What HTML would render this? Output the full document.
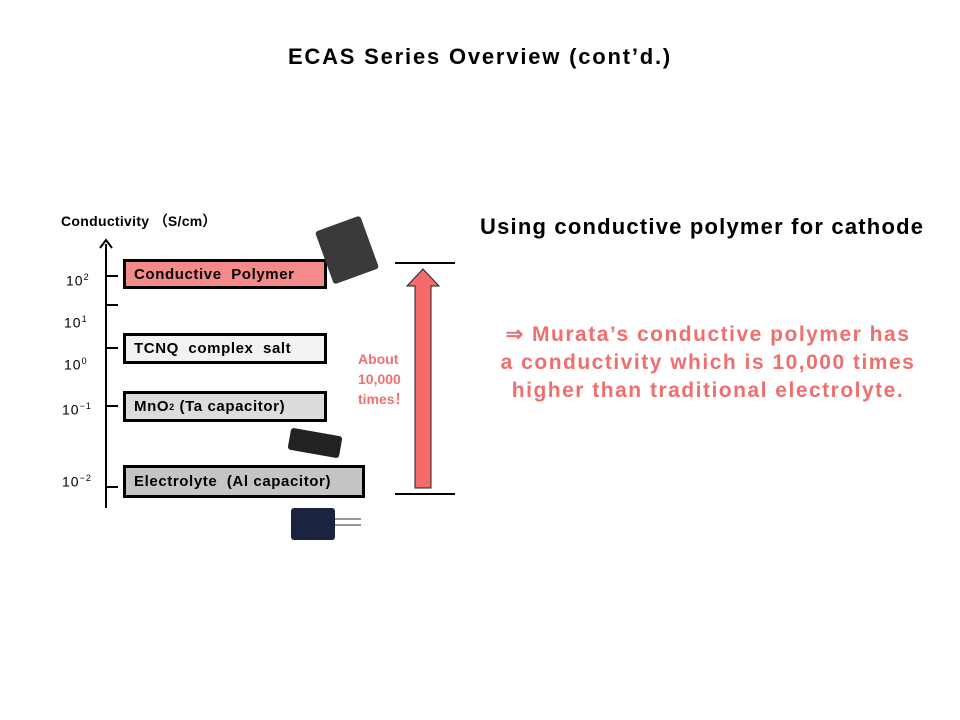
<!DOCTYPE html>
<html><head><style>
body{margin:0;width:960px;height:720px;background:#fff;position:relative;font-family:"Liberation Sans",sans-serif;overflow:hidden}
.a{position:absolute;white-space:nowrap}
.b{position:absolute;border:3px solid #000;box-sizing:border-box;font-weight:bold;font-size:15px;letter-spacing:0.6px;padding-left:8px;display:flex;align-items:center}
.t{position:absolute;left:106px;width:12px;height:2px;background:#000}
.l{position:absolute;font-size:14px;left:64px;letter-spacing:1px}
</style></head><body>
<div class="a" style="left:0;width:960px;text-align:center;top:44px;font-size:22px;font-weight:bold;letter-spacing:1.8px">ECAS Series Overview (cont’d.)</div>
<div class="a" style="left:61px;top:211px;font-size:14px;font-weight:bold;letter-spacing:0.3px">Conductivity （S/cm）</div>
<div class="a" style="left:105px;top:244px;width:2px;height:264px;background:#000"></div>
<svg class="a" style="left:98px;top:238px" width="18" height="12"><polyline points="2,10 8,2 14,10" fill="none" stroke="#000" stroke-width="2"/></svg>
<div class="t" style="top:275px"></div><div class="t" style="top:304px"></div><div class="t" style="top:347px"></div><div class="t" style="top:405px"></div><div class="t" style="top:486px"></div>
<div class="l" style="top:272px;left:66px">10<sup style="font-size:9px">2</sup></div>
<div class="l" style="top:314px">10<sup style="font-size:9px">1</sup></div>
<div class="l" style="top:356px">10<sup style="font-size:9px">0</sup></div>
<div class="l" style="top:401px;left:62px">10<sup style="font-size:9px">−1</sup></div>
<div class="l" style="top:473px;left:62px">10<sup style="font-size:9px">−2</sup></div>
<div class="b" style="left:123px;top:259px;width:204px;height:30px;background:#f58a8a">Conductive&nbsp; Polymer</div>
<div class="b" style="left:123px;top:333px;width:204px;height:31px;background:#f2f2f2">TCNQ&nbsp; complex&nbsp; salt</div>
<div class="b" style="left:123px;top:391px;width:204px;height:31px;background:#dcdcdc">MnO<sub style="font-size:9px">2</sub>&nbsp;(Ta capacitor)</div>
<div class="b" style="left:123px;top:465px;width:242px;height:33px;background:#c4c4c4">Electrolyte&nbsp; (Al capacitor)</div>
<div class="a" style="left:323px;top:222px;width:48px;height:56px;background:#3a3a3a;transform:rotate(-20deg);border-radius:3px"></div>
<div class="a" style="left:289px;top:432px;width:52px;height:22px;background:#222;transform:rotate(10deg);border-radius:3px"></div>
<div class="a" style="left:291px;top:508px;width:44px;height:32px;background:#1c2340;border-radius:3px"></div>
<div class="a" style="left:335px;top:518px;width:26px;height:2px;background:#999"></div>
<div class="a" style="left:335px;top:524px;width:26px;height:2px;background:#999"></div>
<div class="a" style="left:395px;top:262px;width:60px;height:2px;background:#000"></div>
<div class="a" style="left:395px;top:493px;width:60px;height:2px;background:#000"></div>
<svg class="a" style="left:405px;top:268px" width="36" height="224"><polygon points="18,1 34,18 26,18 26,220 10,220 10,18 2,18" fill="#f56b6b" stroke="#222" stroke-width="1"/></svg>
<div class="a" style="left:358px;top:349px;font-size:14px;font-weight:bold;color:#f07070;line-height:20px">About<br>10,000<br>times！</div>
<div class="a" style="left:480px;top:214px;font-size:22px;font-weight:bold;letter-spacing:1.2px">Using conductive polymer for cathode</div>
<div class="a" style="left:458px;width:500px;top:321px;text-align:center;font-size:21px;font-weight:bold;color:#f06e6e;line-height:28px;letter-spacing:1.5px">⇒ Murata’s conductive polymer has<br>a conductivity which is 10,000 times<br>higher than traditional electrolyte.</div>
</body></html>
